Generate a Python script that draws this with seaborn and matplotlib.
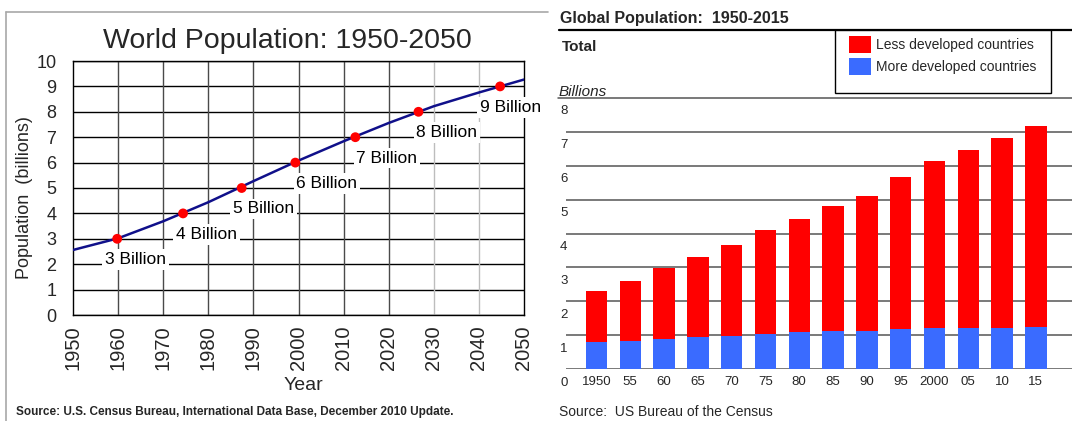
import numpy as np
import pandas as pd
import matplotlib
matplotlib.use("Agg")
import matplotlib.pyplot as plt
from matplotlib.lines import Line2D
from matplotlib.patches import Patch, Rectangle
import seaborn as sns

# ---------------- data ----------------
# World population 1950-2050 (billions), by decade
years = [1950, 1960, 1970, 1980, 1990, 2000, 2010, 2020, 2030, 2040, 2050]
world_pop = [2.56, 3.02, 3.69, 4.44, 5.27, 6.08, 6.84, 7.56, 8.22, 8.76, 9.27]

# Years in which each billion mark is reached
milestone_years = [1959.8, 1974.4, 1987.4, 1999.3, 2012.6, 2026.6, 2044.7]
milestone_values = [3, 4, 5, 6, 7, 8, 9]
milestone_labels = ["3 Billion", "4 Billion", "5 Billion", "6 Billion",
                    "7 Billion", "8 Billion", "9 Billion"]
# horizontal placement (year) of each milestone caption
label_x = [1963.8, 1979.6, 1992.3, 2006.3, 2019.6, 2032.9, 2047.0]

# Global population 1950-2015 (billions), every five years
period_labels = ["1950", "55", "60", "65", "70", "75", "80", "85", "90",
                 "95", "2000", "05", "10", "15"]
total_pop = [2.31, 2.60, 2.99, 3.30, 3.66, 4.11, 4.44, 4.80, 5.11, 5.66,
             6.14, 6.45, 6.82, 7.16]
more_developed = [0.81, 0.84, 0.90, 0.94, 0.98, 1.04, 1.11, 1.14, 1.14,
                  1.18, 1.22, 1.23, 1.23, 1.25]

# ---------------- style ----------------
sns.set_style("white")
plt.rcParams["font.family"] = ["Liberation Sans", "DejaVu Sans"]

W, H = 1072, 421
fig = plt.figure(figsize=(W / 100, H / 100), dpi=100)


def fx(px):
    return px / W


def fy(py):
    return 1 - py / H


# =============== left panel: world population line ===============
axL = fig.add_axes([fx(73), fy(315), fx(524) - fx(73), fy(61) - fy(315)])

# grid
for v in range(0, 11):
    axL.axhline(v, color="black", lw=1.0, zorder=1)
for yr in range(1960, 2050, 10):
    col = "#bdbdbd" if yr >= 2030 else "#4a4a4a"
    axL.axvline(yr, color=col, lw=1.0, zorder=1)

line_df = pd.DataFrame({"Year": years, "Population": world_pop})
sns.lineplot(data=line_df, x="Year", y="Population", ax=axL,
             color="#10108a", lw=1.8, zorder=3)
ms_df = pd.DataFrame({"Year": milestone_years, "Population": milestone_values})
sns.scatterplot(data=ms_df, x="Year", y="Population", ax=axL,
                color="#ff0000", s=50, edgecolor="none", zorder=4)

for lx, val, txt in zip(label_x, milestone_values, milestone_labels):
    axL.text(lx, val - 1, txt, ha="center", va="baseline", fontsize=12.5,
             color="black", zorder=5, clip_on=False,
             bbox=dict(facecolor="white", edgecolor="none", pad=2.0))

axL.set_xlim(1950, 2050)
axL.set_ylim(0, 10)
axL.set_xticks(range(1950, 2051, 10))
axL.set_xticklabels([str(y) for y in range(1950, 2051, 10)], rotation=90)
axL.set_yticks(range(0, 11))
axL.tick_params(axis="x", length=4, width=1, pad=3.5, labelsize=14.5,
                direction="out", color="black")
axL.tick_params(axis="y", length=4, width=1, pad=8, labelsize=13,
                direction="out", color="black")
axL.set_xlabel("")
axL.set_ylabel("")
for s in axL.spines.values():
    s.set_color("black")
    s.set_linewidth(1.0)

fig.text(fx(287.5), fy(48.2), "World Population: 1950-2050", ha="center",
         va="baseline", fontsize=20.5)
fig.text(fx(303), fy(390), "Year", ha="center", va="baseline", fontsize=14)
fig.text(fx(25), fy(198), "Population  (billions)", ha="center", va="center",
         rotation=90, fontsize=13)
fig.text(fx(16.5), fy(414.5),
         "Source: U.S. Census Bureau, International Data Base, December 2010 Update.",
         ha="left", va="baseline", fontsize=8.5, fontweight="bold")

# thin frame around the left panel
fig.add_artist(Line2D([fx(6), fx(548)], [fy(12), fy(12)], color="#a8a8a8",
                      lw=1.2, transform=fig.transFigure))
fig.add_artist(Line2D([fx(6), fx(6)], [fy(12), fy(421)], color="#a8a8a8",
                      lw=1.2, transform=fig.transFigure))

# =============== right panel: stacked bars ===============
axR = fig.add_axes([fx(566), fy(369.3), fx(1072) - fx(566),
                    fy(97.7) - fy(369.3)])

bar_df = pd.DataFrame({"period": period_labels, "total": total_pop,
                       "more": more_developed})
sns.barplot(data=bar_df, x="period", y="total", order=period_labels,
            color="#ff0000", saturation=1, width=0.633, linewidth=0,
            ax=axR, zorder=3)
sns.barplot(data=bar_df, x="period", y="more", order=period_labels,
            color="#3a6bff", saturation=1, width=0.633, linewidth=0,
            ax=axR, zorder=4)

for v in range(0, 8):
    axR.axhline(v, color="#555555", lw=1.1, zorder=2)
axR.axhline(8, xmin=(558 - 566) / (1072 - 566), xmax=1, color="#555555",
            lw=1.1, zorder=2, clip_on=False)

axR.set_xlim(-0.9, 14.07)
axR.set_ylim(0, 8)
for s in axR.spines.values():
    s.set_visible(False)
axR.set_xlabel("")
axR.set_ylabel("")
axR.set_xticks(range(len(period_labels)))
axR.set_xticklabels(period_labels)
axR.tick_params(axis="x", length=0, pad=5, labelsize=9.5)
axR.set_yticks([])

# value labels sit a little below their gridlines
for v in range(0, 9):
    axR.annotate(str(v), xy=(0, v), xycoords=("axes fraction", "data"),
                 xytext=(-4.3, -9.6), textcoords="offset points",
                 ha="left", va="center", fontsize=9.5, annotation_clip=False)

fig.text(fx(560.4), fy(22.7), "Global Population:  1950-2015", ha="left",
         va="baseline", fontsize=11.5, fontweight="bold")
fig.add_artist(Line2D([fx(559), fx(1072)], [fy(30), fy(30)], color="black",
                      lw=1.6, transform=fig.transFigure))
fig.text(fx(562), fy(51.3), "Total", ha="left", va="baseline", fontsize=11,
         fontweight="bold")
fig.text(fx(558.7), fy(95.5), "Billions", ha="left", va="baseline",
         fontsize=11, style="italic")
fig.text(fx(558.7), fy(416.5), "Source:  US Bureau of the Census", ha="left",
         va="baseline", fontsize=10)

# legend
fig.add_artist(Rectangle((fx(834.5), fy(93)), fx(1050.7) - fx(834.5),
                         fy(30) - fy(93), transform=fig.transFigure,
                         facecolor="white", edgecolor="black", lw=1.0,
                         zorder=5))
handles = [Patch(facecolor="#ff0000", edgecolor="none"),
           Patch(facecolor="#3a6bff", edgecolor="none")]
leg = fig.legend(handles, ["Less developed countries",
                           "More developed countries"],
                 loc="upper left", bbox_to_anchor=(fx(846), fy(33)),
                 frameon=False, fontsize=10, handlelength=1.58,
                 handleheight=1.58, handletextpad=0.37, labelspacing=0.3,
                 borderpad=0.2, borderaxespad=0)
leg.set_zorder(6)

fig.savefig("out.png", dpi=100)
